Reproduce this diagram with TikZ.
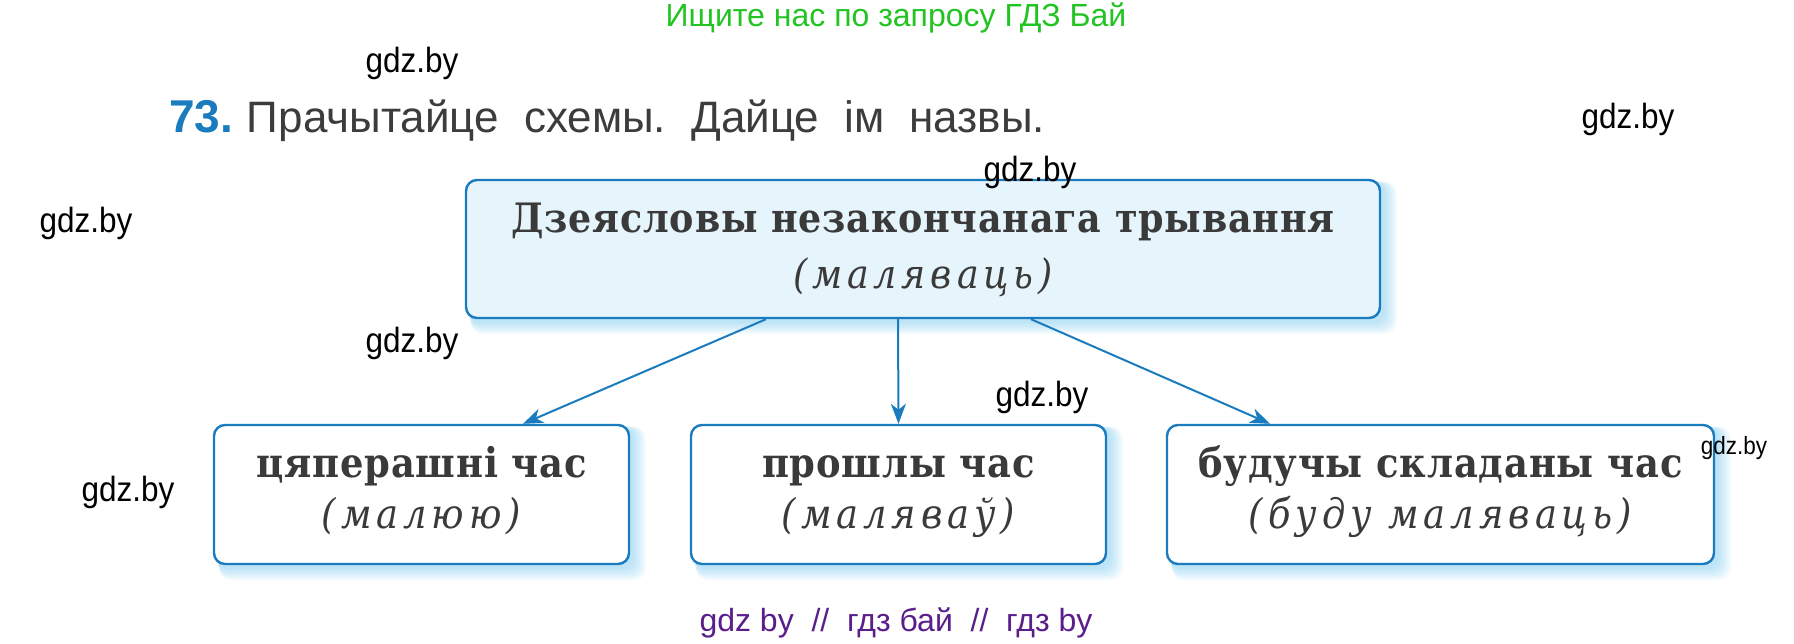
\documentclass[tikz,border=0pt]{standalone}
\usepackage{fontspec}
\setmainfont{DejaVu Serif}
\newfontfamily\boxbf{DejaVu Serif}[LetterSpace=2,FakeStretch=0.9]
\newfontfamily\boxit{DejaVu Serif}[LetterSpace=12,FakeStretch=0.9]
\newfontfamily\sansf{Liberation Sans}
\newfontfamily\wmf{Liberation Sans}[FakeStretch=0.9]
\usetikzlibrary{arrows.meta,calc}
\definecolor{boxblue}{HTML}{1B7BBF}
\definecolor{topfill}{HTML}{E6F4FC}
\definecolor{glowcol}{HTML}{7FCDF5}
\definecolor{txtgray}{HTML}{3A3A3A}
\definecolor{headgray}{HTML}{3C3C3C}
\definecolor{greenwm}{HTML}{22C422}
\definecolor{purplewm}{HTML}{5A1E8C}
\pgfdeclarelayer{bg}
\pgfsetlayers{bg,main}
\newcommand\glowbox[1]{%
  \foreach \r in {1,...,8}{%
    \fill[glowcol,opacity=0.08,rounded corners=12pt]
      ($(#1.north west)+(3+0.4*\r,3)$) rectangle ($(#1.south east)+(2+1.7*\r,2+1.6*\r)$);}}
\newcommand\lineA[1]{{\boxbf\bfseries\vphantom{Й}#1}}
\newcommand\lineB[2]{{\boxit\itshape\vphantom{(Й)}#2\rule[-#1]{0pt}{0pt}}}
\begin{document}
\begin{tikzpicture}[x=1pt,y=-1pt,
  boxst/.style={draw=boxblue,line width=2.4pt,rounded corners=11pt,fill=white,
     align=center,text=txtgray,inner sep=0pt},
  topfont/.style={font=\fontsize{40.5}{56}\selectfont},
  botfont/.style={font=\fontsize{41}{51.5}\selectfont},
  arr/.style={draw=boxblue,line width=2pt,-{Stealth[length=20pt,width=15pt,inset=6pt]}},
  wm/.style={font=\wmf\fontsize{35}{38}\selectfont,text=black,inner sep=0pt}]
\begin{pgfonlayer}{bg}
  \fill[white] (0,0) rectangle (1794,643);
\end{pgfonlayer}
\useasboundingbox (0,0) rectangle (1794,643);

% header
\node[font=\sansf\fontsize{32}{36}\selectfont,text=greenwm,inner sep=0pt] (green) at (896,18) {Ищите нас по запросу ГДЗ Бай};
\node[anchor=west,inner sep=0pt,font=\sansf\fontsize{46}{50}\selectfont,text=headgray] (title) at (169,121)
  {{\bfseries\color{boxblue}73.}\hspace{0.3em}{\fontsize{44}{50}\selectfont Прачытайце\hspace{0.57em}схемы.\hspace{0.57em}Дайце\hspace{0.57em}ім\hspace{0.57em}назвы.}};

% boxes
\node[boxst,topfont,fill=topfill,minimum width=914pt,minimum height=138pt] (top) at (923,249)
  {\lineA{Дзеясловы незакончанага трывання}\\\lineB{18pt}{(маляваць)}};
\node[boxst,botfont,minimum width=415pt,minimum height=139pt] (left) at (421.5,494.5)
  {\lineA{цяперашні час}\\\lineB{24pt}{(малюю)}};
\node[boxst,botfont,minimum width=415pt,minimum height=139pt] (mid) at (898.5,494.5)
  {\lineA{прошлы час}\\\lineB{24pt}{(маляваў)}};
\node[boxst,botfont,minimum width=547pt,minimum height=139pt] (right) at (1440.5,494.5)
  {\lineA{будучы складаны час}\\\lineB{24pt}{(буду маляваць)}};

\begin{pgfonlayer}{bg}
  \glowbox{top}\glowbox{left}\glowbox{mid}\glowbox{right}
\end{pgfonlayer}

% arrows
\draw[arr] ($(top.south)+(-157,0)$) -- ($(left.north)+(101.5,0)$);
\draw[arr] ($(top.south)+(-25,0)$) -- ($(mid.north)+(0,0)$);
\draw[arr] ($(top.south)+(108,0)$) -- ($(right.north)+(-170.5,0)$);

% watermarks
\node[wm] (w1) at (412,63) {gdz.by};
\node[wm] (w2) at (1628,119) {gdz.by};
\node[wm] (w3) at (1030,172) {gdz.by};
\node[wm] (w4) at (86,223) {gdz.by};
\node[wm] (w5) at (412,343) {gdz.by};
\node[wm] (w6) at (1042,397) {gdz.by};
\node[wm,font=\wmf\fontsize{25}{28}\selectfont] (w7) at (1734,448) {gdz.by};
\node[wm] (w8) at (128,492) {gdz.by};
\node[font=\sansf\fontsize{32}{36}\selectfont,text=purplewm,inner sep=0pt] (bottomwm) at (896,623)
  {gdz by\ \ //\ \ гдз бай\ \ //\ \ гдз by};
\end{tikzpicture}
\end{document}
